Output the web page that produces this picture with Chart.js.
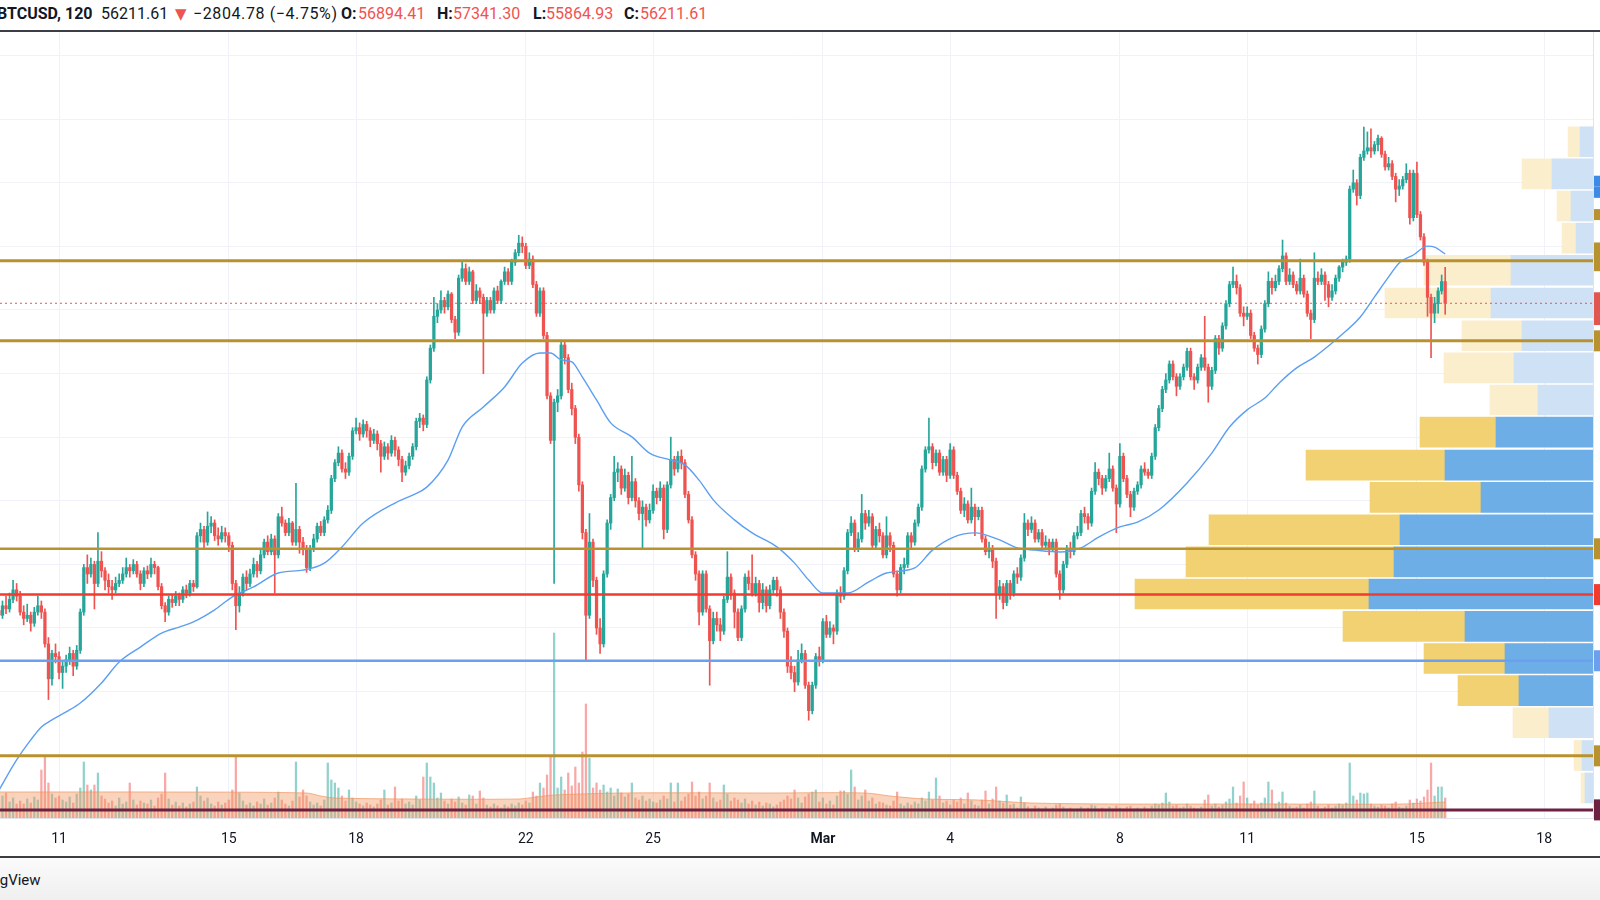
<!DOCTYPE html>
<html>
<head>
<meta charset="utf-8">
<script src="https://cdn.jsdelivr.net/npm/chart.js@4.4.1/dist/chart.umd.min.js"></script>
<style>
  html, body { margin: 0; padding: 0; background: #fff; }
  body { width: 1600px; height: 900px; overflow: hidden; position: relative; font-family: Roboto, "Liberation Sans", sans-serif; }
  #legenda { position: absolute; left: 0; top: 2px; width: 1600px; height: 24px; font-size: 16px; color: #131722; white-space: nowrap; }
  #legenda span { position: absolute; top: 0; line-height: 24px; }
  #legenda .forte { font-weight: 700; }
  #legenda .seta { font-size: 15px; font-family: "DejaVu Sans", sans-serif; }
  #legenda .variacao { letter-spacing: 0.6px; }
  .vermelho { color: #ef5350; }
  #topo { position: absolute; left: 0; top: 30px; width: 1600px; height: 2px; background: #3b3e46; }
  #grafico-wrap { position: absolute; left: 0; top: 32px; width: 1600px; height: 825px; }
  #base { position: absolute; left: 0; top: 856px; width: 1600px; height: 2px; background: #3b3e46; }
  #rodape { position: absolute; left: 0; top: 858px; width: 1600px; height: 42px; background: linear-gradient(to bottom, #fbfbfb, #efefef); }
  #marca { position: absolute; left: -42px; top: 871px; font-size: 15px; color: #131722; }
</style>
</head>
<body>
<div id="legenda">
  <span class="forte" style="left:-3px">BTCUSD, 120</span>
  <span style="left:101px">56211.61</span>
  <span class="vermelho seta" style="left:175px">▼</span>
  <span class="variacao" style="left:193px">−2804.78 (−4.75%)</span>
  <span class="forte" style="left:341px">O:</span><span class="vermelho" style="left:358px">56894.41</span>
  <span class="forte" style="left:437px">H:</span><span class="vermelho" style="left:453px">57341.30</span>
  <span class="forte" style="left:533px">L:</span><span class="vermelho" style="left:546px">55864.93</span>
  <span class="forte" style="left:624px">C:</span><span class="vermelho" style="left:640px">56211.61</span>
</div>
<div id="topo"></div>
<div id="grafico-wrap"><canvas id="grafico-btc" width="1600" height="825"></canvas></div>
<div id="base"></div>
<div id="rodape"></div>
<div id="marca">TradingView</div>
<script>
// ================= DADOS =================
// barras de 2h; indice 0 = 11 fev 00:00, primeira vela = 9 fev 14:00
const inicioIdx = -17;

// [abertura, maxima, minima, fechamento]
const candles = [
  [46550,46800,46250,46400],[46400,46850,46300,46700],[46700,47000,46450,46600],[46600,47100,46500,46900],[46900,47500,46800,47200],[47200,47400,46850,47000],
  [47000,47150,46400,46500],[46500,46700,46100,46300],[46300,46750,46200,46400],[46400,46500,45900,46150],[46150,46650,46050,46500],[46500,47000,46400,46700],[46700,46850,46300,46500],[46500,46600,45400,45500],[45500,45700,43750,44400],[44400,45300,44200,45200],[45200,45500,44900,45100],[45100,45250,44400,44600],
  [44600,44950,44100,44800],[44800,45150,44600,45000],[45000,45400,44850,45200],[45200,45300,44500,44800],[44800,45450,44700,45300],[45300,46600,45200,46500],[46500,48000,46400,47900],[47900,48300,47400,47700],[47700,48200,47600,48000],[48000,48100,46600,47400],[47400,49000,47300,48100],[48100,48400,47600,47800],
  [47800,47900,47200,47500],[47500,47700,47100,47300],[47300,47500,46900,47200],[47200,47600,47100,47400],[47400,47700,47300,47500],[47500,47900,47400,47700],[47700,48200,47600,47900],[47900,48000,47600,47800],[47800,48150,47700,48000],[48000,48100,47600,47700],[47700,47800,47200,47400],[47400,47900,47300,47800],
  [47800,47950,47550,47700],[47700,48200,47600,48000],[48000,48100,47700,47900],[47900,47950,47200,47300],[47300,47400,46600,46700],[46700,46800,46200,46500],[46500,47000,46400,46900],[46900,47050,46650,46800],[46800,47150,46700,47000],[47000,47100,46700,46900],[46900,47300,46800,47200],[47200,47350,46950,47100],
  [47100,47500,47000,47400],[47400,47500,47150,47300],[47300,49000,47250,48900],[48900,49300,48700,49100],[49100,49200,48500,48700],[48700,49650,48600,49200],[49200,49500,49000,49300],[49300,49400,48750,48900],[48900,49150,48600,48800],[48800,49200,48700,49000],[49000,49150,48700,48900],[48900,49000,48400,48600],
  [48600,48700,47200,47400],[47400,47500,45950,46700],[46700,47300,46500,47100],[47100,47700,47000,47600],[47600,47800,47200,47400],[47400,47850,47300,47700],[47700,48200,47600,48000],[48000,48100,47600,47800],[47800,48450,47700,48300],[48300,48800,48200,48700],[48700,48900,48300,48400],[48400,48950,48300,48800],
  [48800,48900,47100,48300],[48300,49600,48200,49500],[49500,49800,49200,49300],[49300,49400,48900,49000],[49000,49450,48900,49300],[49300,49350,48600,48700],[48700,50550,48600,49100],[49100,49200,48350,48700],[48700,48850,48300,48500],[48500,48600,47750,47900],[47900,48600,47800,48500],[48500,48950,48400,48800],
  [48800,49300,48700,49200],[49200,49350,48900,49000],[49000,49500,48900,49400],[49400,49850,49300,49700],[49700,50800,49600,50700],[50700,51300,50600,51200],[51200,51700,51100,51500],[51500,51600,50900,51000],[51000,51200,50700,50900],[50900,51500,50800,51400],[51400,52300,51300,52200],[52200,52600,52100,52300],
  [52300,52450,51900,52100],[52100,52550,52000,52400],[52400,52500,52000,52200],[52200,52300,51700,51900],[51900,52250,51800,52100],[52100,52200,51600,51800],[51800,51900,50900,51400],[51400,51850,51300,51700],[51700,51800,51300,51500],[51500,52050,51400,51900],[51900,52000,51400,51600],[51600,51700,51100,51300],
  [51300,51400,50600,50900],[50900,51250,50800,51100],[51100,51500,51000,51400],[51400,51800,51300,51700],[51700,52600,51600,52500],[52500,52750,52300,52600],[52600,52700,52200,52400],[52400,53900,52300,53800],[53800,54900,53700,54800],[54800,56400,54700,55800],[55800,56200,55600,56000],[56000,56600,55900,56300],
  [56300,56400,55900,56100],[56100,56600,56000,56500],[56500,56550,55600,55700],[55700,55800,55100,55300],[55300,57100,55200,57000],[57000,57500,56900,57300],[57300,57450,56800,56900],[56900,57350,56800,57200],[57200,57250,56200,56300],[56300,56800,56200,56600],[56600,56700,56200,56400],[56400,56500,54000,55900],
  [55900,56400,55800,56300],[56300,56400,55900,56000],[56000,56700,55900,56600],[56600,56750,56200,56300],[56300,56950,56200,56900],[56900,57350,56800,57200],[57200,57300,56800,56900],[56900,57600,56800,57500],[57500,57900,57400,57800],[57800,58350,57700,58100],[58100,58300,57800,58000],[58000,58100,57300,57400],
  [57400,57800,57300,57600],[57600,57700,56700,56800],[56800,56900,55800,55900],[55900,56700,55800,56600],[56600,56700,55100,55200],[55200,55300,53200,53300],[53300,53400,51800,51900],[51900,53200,47400,53100],[53100,53500,52800,53300],[53300,55000,53200,54900],[54900,55000,54300,54500],[54500,54600,53400,53500],
  [53500,53700,52700,52900],[52900,53000,51800,52000],[52000,52100,50300,50500],[50500,50600,48800,49000],[49000,49100,45000,46400],[46400,49600,46300,48700],[48700,48800,47300,47500],[47500,47600,45800,46000],[46000,46300,45200,45500],[45500,47800,45400,47700],[47700,49400,47600,49300],[49300,50200,49100,50100],
  [50100,51400,50000,50900],[50900,51200,50600,51000],[51000,51100,50200,50400],[50400,51000,50300,50800],[50800,50900,49900,50100],[50100,51400,50000,50600],[50600,50700,49800,50000],[50000,50100,49400,49600],[49600,50000,48500,49800],[49800,49900,49200,49400],[49400,49900,49300,49700],[49700,50500,49600,50300],
  [50300,50400,49900,50100],[50100,50600,50000,50400],[50400,50500,48800,49100],[49100,50600,49000,50500],[50500,52000,50400,51300],[51300,51400,50800,51000],[51000,51550,50900,51400],[51400,51600,51000,51200],[51200,51300,50100,50200],[50200,50300,49300,49400],[49400,49500,48200,48300],[48300,48400,47500,47700],
  [47700,47800,46100,46500],[46500,47800,46400,47700],[47700,47800,46500,46600],[46600,46700,44200,45600],[45600,46500,45500,46300],[46300,46500,45900,46100],[46100,46300,45600,45900],[45900,47000,45800,46900],[46900,48400,46800,47600],[47600,47700,46900,47100],[47100,47200,46000,46500],[46500,46600,45600,45700],
  [45700,46700,45600,46600],[46600,47700,46500,47600],[47600,47800,47200,47400],[47400,48300,47000,47100],[47100,47600,47000,47400],[47400,47500,46500,46800],[46800,47400,46600,47200],[47200,47300,46500,46700],[46700,47350,46600,47200],[47200,47600,47100,47500],[47500,47600,47000,47200],[47200,47300,46300,46500],
  [46500,46600,45700,45900],[45900,46000,44600,44800],[44800,45100,44400,44600],[44600,44800,44000,44300],[44300,45300,44200,45000],[45000,45500,44900,45200],[45200,45300,44100,44200],[44200,44300,43100,43400],[43400,44300,43300,44200],[44200,45200,44100,45100],[45100,45400,44800,45000],[45000,46300,44900,46200],
  [46200,46400,45700,45800],[45800,46200,45700,46000],[46000,46100,45500,45900],[45900,47200,45800,47100],[47100,47300,46800,47000],[47000,47900,46900,47800],[47800,49100,47700,49000],[49000,49500,48900,49300],[49300,49400,48400,48500],[48500,49000,48400,48800],[48800,50200,48700,49600],[49600,49700,49100,49300],
  [49300,49700,49200,49500],[49500,49600,48500,48600],[48600,49200,48500,49100],[49100,49300,48700,48900],[48900,49000,48200,48300],[48300,49500,48200,48900],[48900,49000,48400,48600],[48600,48700,47600,47700],[47700,47800,47000,47200],[47200,48000,47100,47900],[47900,48200,47700,48000],[48000,49000,47900,48900],
  [48900,49000,48500,48700],[48700,49400,48600,49300],[49300,49900,49200,49800],[49800,51100,49700,51000],[51000,51700,50900,51600],[51600,52600,51500,51700],[51700,51800,51000,51200],[51200,51600,51100,51500],[51500,51600,50800,50900],[50900,51400,50800,51300],[51300,51400,50600,50800],[50800,51800,50700,51600],
  [51600,51700,50700,50800],[50800,50900,50200,50300],[50300,50400,49600,49700],[49700,50100,49500,49900],[49900,50000,49300,49400],[49400,50400,49300,49800],[49800,49900,48900,49500],[49500,49800,49400,49700],[49700,49800,48700,48800],[48800,48900,48300,48400],[48400,48700,48200,48500],[48500,48600,47900,48100],
  [48100,48200,46300,47100],[47100,47500,46900,47300],[47300,47400,46600,46800],[46800,47500,46700,47400],[47400,47500,46900,47100],[47100,47800,47000,47700],[47700,47900,47400,47600],[47600,48300,47500,48200],[48200,49600,48100,49300],[49300,49400,48900,49100],[49100,49500,49000,49300],[49300,49400,48700,48800],
  [48800,49100,48700,49000],[49000,49100,48500,48600],[48600,48900,48500,48700],[48700,48800,48300,48500],[48500,48800,48400,48700],[48700,48800,47600,47700],[47700,47800,46900,47200],[47200,48100,47100,48000],[48000,48600,47900,48500],[48500,48700,48200,48400],[48400,49000,48300,48900],[48900,49200,48800,49000],
  [49000,49700,48900,49600],[49600,49800,49300,49500],[49500,49600,49100,49300],[49300,50400,49200,50300],[50300,51200,50200,50900],[50900,51000,50500,50700],[50700,50800,50200,50400],[50400,50800,50300,50700],[50700,51500,50600,51000],[51000,51100,50300,50400],[50400,50500,49000,49900],[49900,51800,49800,51400],
  [51400,51500,50600,50700],[50700,50800,50100,50200],[50200,50300,49500,49800],[49800,50400,49700,50300],[50300,50600,50200,50500],[50500,51100,50400,51000],[51000,51200,50800,50900],[50900,51000,50700,50800],[50800,51500,50700,51400],[51400,52400,51300,52300],[52300,53000,52200,52900],[52900,53600,52800,53500],
  [53500,54000,53400,53800],[53800,54400,53700,54300],[54300,54400,53800,53900],[53900,54000,53300,53600],[53600,54000,53500,53900],[53900,54300,53800,54200],[54200,54800,54100,54700],[54700,54800,53800,53900],[53900,54000,53500,53800],[53800,54300,53700,54200],[54200,54600,54100,54500],[54500,55800,54100,54200],
  [54200,54300,53100,53600],[53600,54200,53500,54100],[54100,55200,54000,55100],[55100,55200,54600,54800],[54800,55600,54700,55500],[55500,56300,55400,56200],[56200,56900,56100,56800],[56800,57350,56700,56900],[56900,57100,56500,56700],[56700,56800,55800,55900],[55900,56100,55500,55800],[55800,56100,55700,55900],
  [55900,56000,55100,55200],[55200,55300,54700,54800],[54800,54900,54300,54600],[54600,55500,54500,55400],[55400,56300,55300,56200],[56200,57200,56100,56900],[56900,57000,56500,56700],[56700,57100,56600,56900],[56900,57400,56800,57300],[57300,58200,57200,57700],[57700,57800,56800,56900],[56900,57300,56800,57100],
  [57100,57200,56700,56800],[56800,56900,56500,56600],[56600,57600,56500,57000],[57000,57100,56400,56500],[56500,56600,55800,55900],[55900,56000,55100,55700],[55700,57800,55600,57000],[57000,57200,56800,56900],[56900,57300,56800,57100],[57100,57200,56300,56800],[56800,56900,56100,56400],[56400,56800,56300,56600],
  [56600,57100,56500,57000],[57000,57400,56900,57350],[57350,57600,57200,57500],[57500,57700,57400,57600],[57600,59900,57500,59800],[59800,60400,59700,60000],[60000,60100,59300,59600],[59600,60900,59500,60800],[60800,61750,60700,61000],[61000,61600,60900,61100],[61100,61700,60800,61000],[61000,61300,60900,61200],
  [61200,61500,61000,61400],[61400,61450,60800,60900],[60900,61000,60400,60500],[60500,60800,60400,60600],[60600,60700,60100,60200],[60200,60300,59400,59800],[59800,60100,59600,59900],[59900,60200,59800,60100],[60100,60600,60000,60300],[60300,60400,58700,58900],[58900,60400,58800,60300],[60300,60650,58900,59000],
  [59000,59100,58200,58300],[58300,58400,57400,57500],[57500,57600,55800,56400],[56400,56500,54500,55900],[55900,56400,55600,56200],[56200,56700,55900,56600],[56600,57100,56500,56894.41],[56894.41,57341.30,55864.93,56211.61]
];

// volume por barra (centenas de BTC)
const volumes = [
  18,22,25,16,20,14,
  17,14,19,15,21,18,48,61,35,24,20,22,
  18,16,21,15,24,30,56,33,28,33,45,22,
  19,15,17,12,20,14,16,35,18,13,17,15,
  14,18,12,20,24,45,19,13,16,12,15,11,
  14,16,31,22,17,20,14,12,16,13,15,18,
  28,61,25,17,13,15,12,16,14,19,13,15,
  20,26,18,14,12,17,56,21,28,22,16,13,
  15,12,18,55,38,35,30,22,17,28,20,16,
  14,12,15,13,11,14,18,28,13,15,31,17,
  19,14,16,13,22,18,41,55,41,35,20,25,
  17,14,19,16,21,15,13,23,22,14,27,20,
  13,11,14,12,10,13,11,14,12,15,13,17,
  15,26,22,35,30,43,61,185,30,41,28,45,
  32,51,35,66,114,60,30,35,28,33,26,30,
  22,29,25,21,24,35,20,18,22,17,19,16,
  15,18,22,19,35,16,35,17,21,24,36,22,
  26,19,22,35,20,16,18,33,24,17,20,18,
  15,19,14,17,13,16,12,15,14,11,13,16,
  18,22,19,28,20,15,21,24,26,28,16,20,
  14,17,13,22,27,27,24,48,31,18,22,28,
  17,20,14,16,15,13,12,17,26,14,12,15,
  13,16,14,20,17,26,18,40,22,15,17,13,
  18,16,20,14,25,17,13,12,18,27,14,19,
  31,17,15,23,13,14,10,21,15,11,9,12,
  10,9,11,8,10,13,14,11,9,10,8,9,
  11,9,10,13,12,9,10,8,11,9,12,10,
  9,11,12,9,10,8,11,9,12,14,13,15,
  25,16,12,13,10,11,14,12,10,9,11,18,
  23,12,14,11,13,16,19,31,15,22,36,20,
  14,17,13,15,20,36,28,14,16,26,15,12,
  10,11,13,10,14,16,27,12,9,11,13,10,
  12,14,13,15,55,22,18,25,24,25,14,12,
  11,13,12,10,14,16,11,10,12,18,15,19,
  17,21,28,55,22,31,31,20
];

// media movel do preco
const mediaIdx = [-17,-12,-8,-5,-2,2,6,12,17,23,29,34,38,44,49,55,62,69,75,80,86,95,100,104,110,114,120,126,131,136,139,142,145,148,152,156,162,167,173,177,181,185,191,196,203,208,212,216,223,229,234,242,247,253,259,266,271,276,283,289,294,300,305,311,319,326,331,336,341,345,350,355,360,362,368,372,376,379,383,387,389,392];
const mediaVal = [40900,41850,42480,42890,43110,43360,43640,44270,44930,45400,45840,46030,46190,46570,46980,47290,47730,47820,48040,48550,49300,49930,50180,50430,51280,52320,52950,53580,54330,54650,54650,54430,54370,53890,53170,52450,52010,51500,51280,51130,50650,50030,49400,48990,48550,48040,47510,47100,47100,47450,47730,47890,48450,48860,48990,48770,48520,48450,48390,48520,48860,49180,49330,49710,50560,51500,52320,52860,53230,53700,54180,54520,54960,55150,55780,56410,57040,57480,57730,58010,57980,57760];

// media do volume
const volMediaIdx = [-17,30,70,74,78,100,130,135,140,160,200,228,235,245,260,275,300,340,380,392];
const volMediaVal = [26,26,25,22,20,19,19,21,23,25,25,25,22,19,18,15,14,14,14,16];

// niveis horizontais desenhados
const niveisPreco = [57550, 55030, 48490, 47050, 44970, 41980, 40280];
const precoAtual = 56211.61;

// perfil de volume (centro da faixa de preco)
const perfilPrecos = [61290,60280,59270,58260,57250,56220,55190,54180,53170,52160,51120,50110,49090,48080,47070,46050,45040,44030,43020,41990,40970];
const perfilCompra = [13,41,22,17,82,102,71,79,55,97,148,112,193,199,224,128,88,74,44,11,8];
const perfilVenda = [12,30,14,14,87,106,60,70,48,76,139,111,191,208,234,122,81,61,36,8,4];
const perfilAreaValor = [0,0,0,0,0,0,0,0,0,1,1,1,1,1,1,1,1,1,0,0,0];

// eixos
const ticksIdx = [0, 48, 84, 132, 168, 216, 252, 300, 336, 384, 420];
const ticksRotulos = ["11", "15", "18", "22", "25", "Mar", "4", "8", "11", "15", "18"];
const precoGrade = [42000,44000,46000,48000,50000,52000,54000,56000,58000,60000,62000,64000];

// ================= ESTILO =================
const VERDE = "#26a69a";
const VERMELHO = "#ef5350";
const X_MIN = -16.7, X_MAX = 433.8;
const Y_MIN = 40025, Y_MAX = 64742;
const estiloNiveis = [
    { cor: "#b8922f", largura: 3 },
    { cor: "#b8922f", largura: 3 },
    { cor: "#b8922f", largura: 2.5 },
    { cor: "#f23a2e", largura: 2.5 },
    { cor: "#6b9ff0", largura: 2.5 },
    { cor: "#b8922f", largura: 3 },
    { cor: "#6e2242", largura: 3 }
];
const etiquetasExtras = [
    { preco: 60050, cor: "#3d8be8" },
    { preco: 59700, cor: "#3d8be8" },
    { preco: 59000, cor: "#b8922f" },
    { preco: 57950, cor: "#b8922f" },
    { preco: 55700, cor: "#e0574f" }
];

// ================= PLUGIN ETIQUETAS =================
const pluginEtiquetas = {
    id: "etiquetas",
    afterDraw(chart) {
        const { ctx, chartArea, scales } = chart;
        const x0 = chartArea.right + 1;
        const desenhar = (preco, cor, altura) => {
            const y = scales.y.getPixelForValue(preco);
            ctx.fillStyle = cor;
            ctx.fillRect(x0, y - altura / 2, chart.width - x0, altura);
        };
        ctx.save();
        etiquetasExtras.forEach(e => desenhar(e.preco, e.cor, 11));
        desenhar(precoAtual, "#e0574f", 22);
        niveisPreco.forEach((p, k) => desenhar(p, estiloNiveis[k].cor, 21));
        ctx.restore();
    }
};

// ================= GRAFICO =================
function renderizarGrafico() {
    const ctx = document.getElementById("grafico-btc").getContext("2d");

    const subiu = candles.map(c => c[3] >= c[0]);
    const coresVela = subiu.map(s => s ? VERDE : VERMELHO);
    const coresVolume = subiu.map(s => s ? "rgba(38,166,154,0.5)" : "rgba(239,83,80,0.5)");

    const datasets = [];

    niveisPreco.forEach((p, k) => {
        datasets.push({
            type: "line",
            data: [{ x: X_MIN, y: p }, { x: X_MAX, y: p }],
            borderColor: estiloNiveis[k].cor,
            borderWidth: estiloNiveis[k].largura,
            pointRadius: 0,
            xAxisID: "x",
            yAxisID: "y",
            order: 0
        });
    });

    datasets.push({
        type: "line",
        data: mediaIdx.map((v, k) => ({ x: v, y: mediaVal[k] })),
        borderColor: "#5c9ff2",
        borderWidth: 1.4,
        pointRadius: 0,
        cubicInterpolationMode: "monotone",
        xAxisID: "x",
        yAxisID: "y",
        order: 1
    });

    datasets.push({
        type: "bar",
        data: candles.map((c, k) => ({ x: inicioIdx + k, y: [c[2], c[1]] })),
        backgroundColor: coresVela,
        barThickness: 1,
        grouped: false,
        xAxisID: "x",
        yAxisID: "y",
        order: 2
    });
    datasets.push({
        type: "bar",
        data: candles.map((c, k) => ({ x: inicioIdx + k, y: [c[0], c[3]] })),
        backgroundColor: coresVela,
        barThickness: 2.6,
        minBarLength: 1,
        grouped: false,
        xAxisID: "x",
        yAxisID: "y",
        order: 2
    });

    datasets.push({
        type: "line",
        data: [{ x: X_MIN, y: precoAtual }, { x: X_MAX, y: precoAtual }],
        borderColor: VERMELHO,
        borderWidth: 1,
        borderDash: [2, 3],
        pointRadius: 0,
        xAxisID: "x",
        yAxisID: "y",
        order: 3
    });

    datasets.push({
        type: "line",
        data: volMediaIdx.map((v, k) => ({ x: v, y: volMediaVal[k] })),
        borderColor: "rgba(240,150,95,0.7)",
        backgroundColor: "rgba(242,150,95,0.42)",
        borderWidth: 1,
        fill: "origin",
        pointRadius: 0,
        tension: 0.3,
        xAxisID: "x",
        yAxisID: "yv",
        order: 4
    });

    datasets.push({
        type: "bar",
        data: volumes.map((v, k) => ({ x: inicioIdx + k, y: v })),
        backgroundColor: coresVolume,
        barThickness: 1.6,
        grouped: false,
        xAxisID: "x",
        yAxisID: "yv",
        order: 5
    });

    // perfil de volume: compra (azul) junto a direita, venda (amarelo) depois
    datasets.push({
        type: "bar",
        indexAxis: "y",
        data: perfilPrecos.map((p, k) => ({ x: [0, perfilCompra[k]], y: p })),
        backgroundColor: perfilAreaValor.map(a => a ? "#6caee5" : "#cfe2f5"),
        barThickness: 30,
        grouped: false,
        xAxisID: "xp",
        yAxisID: "y",
        order: 6
    });
    datasets.push({
        type: "bar",
        indexAxis: "y",
        data: perfilPrecos.map((p, k) => ({ x: [perfilCompra[k], perfilCompra[k] + perfilVenda[k]], y: p })),
        backgroundColor: perfilAreaValor.map(a => a ? "#f2d173" : "#fbeecd"),
        barThickness: 30,
        grouped: false,
        xAxisID: "xp",
        yAxisID: "y",
        order: 6
    });

    new Chart(ctx, {
        type: "bar",
        data: { datasets: datasets },
        plugins: [pluginEtiquetas],
        options: {
            responsive: false,
            animation: false,
            layout: { padding: 0 },
            plugins: {
                legend: { display: false },
                tooltip: { enabled: false }
            },
            scales: {
                x: {
                    type: "linear",
                    min: X_MIN,
                    max: X_MAX,
                    offset: false,
                    grid: { color: "#eff2f8", offset: false, drawTicks: false },
                    border: { display: true, color: "#e0e3eb" },
                    ticks: {
                        autoSkip: false,
                        maxRotation: 0,
                        padding: 13,
                        color: "#131722",
                        font: (c) => ({ family: "Roboto", size: 14, weight: (c.tick && c.tick.label === "Mar") ? "bold" : "normal" }),
                        callback: (valor) => {
                            const k = ticksIdx.indexOf(valor);
                            return k >= 0 ? ticksRotulos[k] : "";
                        }
                    },
                    afterBuildTicks: (scale) => { scale.ticks = ticksIdx.map(v => ({ value: v })); },
                    afterFit: (scale) => { scale.height = 39; }
                },
                y: {
                    type: "linear",
                    position: "right",
                    min: Y_MIN,
                    max: Y_MAX,
                    offset: false,
                    grid: { color: "#eff2f8", offset: false, drawTicks: false },
                    border: { display: true, color: "#e0e3eb" },
                    ticks: { display: false },
                    afterBuildTicks: (scale) => { scale.ticks = precoGrade.map(v => ({ value: v })); },
                    afterFit: (scale) => { scale.width = 7; }
                },
                yv: {
                    type: "linear",
                    display: false,
                    min: 0,
                    max: 786,
                    offset: false
                },
                xp: {
                    type: "linear",
                    display: false,
                    min: 0,
                    max: 1593,
                    reverse: true,
                    offset: false
                }
            }
        }
    });
}

document.addEventListener("DOMContentLoaded", () => {
    renderizarGrafico();
});
</script>
</body>
</html>
